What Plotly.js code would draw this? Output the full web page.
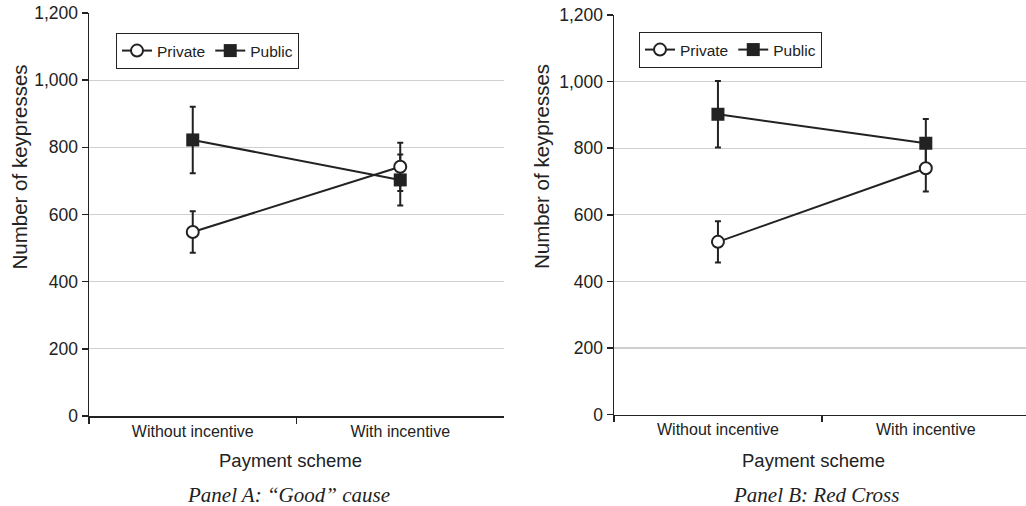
<!DOCTYPE html>
<html>
<head>
<meta charset="utf-8">
<script src="https://cdn.plot.ly/plotly-3.0.1.min.js"></script>
<style>html,body{margin:0;padding:0;background:#fff;}#chart{width:1026px;height:506px;}</style>
</head>
<body>
<div id="chart"></div>
<script>
// ---- Data ----
const categories = ["Without incentive", "With incentive"];
const seriesNames = ["Private", "Public"];

// Panel A: "Good" cause
const privateA = [548, 742];
const privateAErr = [62, 72];
const publicA = [822, 703];
const publicAErr = [99, 76];

// Panel B: Red Cross
const privateB = [519, 740];
const privateBErr = [62, 70];
const publicB = [902, 815];
const publicBErr = [100, 73];

const yTicks = [0, 200, 400, 600, 800, 1000, 1200];
const panelCaptions = ["Panel A: \u201cGood\u201d cause", "Panel B: Red Cross"];
const xTitle = "Payment scheme";
const yTitle = "Number of keypresses";

// ---- Styling ----
const ink = "#222222";
const sans = "Liberation Sans, Arial, sans-serif";
const serif = "Liberation Serif, Times New Roman, serif";

function errBar(arr) {
  return {type: "data", array: arr, visible: true, thickness: 2, width: 3, color: ink};
}
function publicTrace(y, err, xa, ya, leg) {
  return {
    x: categories, y: y, name: seriesNames[1], type: "scatter", mode: "lines+markers",
    xaxis: xa, yaxis: ya, legend: leg, legendrank: 2,
    line: {color: ink, width: 2},
    marker: {symbol: "square", size: 13, color: ink, line: {color: ink, width: 0}},
    error_y: errBar(err)
  };
}
function privateTrace(y, err, xa, ya, leg) {
  return {
    x: categories, y: y, name: seriesNames[0], type: "scatter", mode: "lines+markers",
    xaxis: xa, yaxis: ya, legend: leg, legendrank: 1,
    line: {color: ink, width: 2},
    marker: {symbol: "circle", size: 12, color: "#ffffff", line: {color: ink, width: 2}},
    error_y: errBar(err)
  };
}

const data = [
  publicTrace(publicA, publicAErr, "x", "y", "legend"),
  privateTrace(privateA, privateAErr, "x", "y", "legend"),
  publicTrace(publicB, publicBErr, "x2", "y2", "legend2"),
  privateTrace(privateB, privateBErr, "x2", "y2", "legend2")
];

function xAxis(domain, range) {
  return {
    domain: domain, type: "category", range: range,
    showline: true, linecolor: ink, linewidth: 1.5,
    ticks: "outside", tickson: "boundaries", ticklen: 6, tickcolor: ink, tickwidth: 1.5,
    showgrid: false, zeroline: false,
    tickfont: {family: sans, size: 16, color: ink},
    fixedrange: true
  };
}
function yAxis(domain, anchor) {
  return {
    domain: domain, anchor: anchor, range: [0, 1200],
    tickvals: yTicks, tickformat: ",",
    showline: true, linecolor: ink, linewidth: 1.5,
    ticks: "outside", ticklen: 6, tickcolor: ink, tickwidth: 1.5,
    showgrid: true, gridcolor: "#cfcfcf", gridwidth: 1.2, zeroline: false,
    tickfont: {family: sans, size: 17.5, color: ink},
    fixedrange: true
  };
}
function legendBox(x, y) {
  return {
    x: x, y: y, xanchor: "left", yanchor: "top", orientation: "h",
    bgcolor: "#ffffff", bordercolor: ink, borderwidth: 1,
    font: {family: sans, size: 15.5, color: ink},
    itemwidth: 30, tracegroupgap: 0, traceorder: "normal"
  };
}

const layout = {
  width: 1026, height: 506,
  margin: {l: 0, r: 0, t: 0, b: 0},
  paper_bgcolor: "#ffffff", plot_bgcolor: "#ffffff",
  showlegend: true,
  xaxis: Object.assign(xAxis([89/1026, 504/1026], [-0.5, 1.5]), {anchor: "y"}),
  yaxis: yAxis([90/506, 493/506], "x"),
  xaxis2: Object.assign(xAxis([614/1026, 1], [-0.5, 1.482]), {anchor: "y2"}),
  yaxis2: yAxis([91.3/506, 491/506], "x2"),
  legend: legendBox(116/1026, 1 - 33/506),
  legend2: legendBox(639/1026, 1 - 32/506),
  annotations: [
    {text: yTitle, xref: "paper", yref: "paper", x: 18.5/1026, y: 1 - 167/506, textangle: -90,
     showarrow: false, xanchor: "center", yanchor: "middle", font: {family: sans, size: 20.5, color: ink}},
    {text: yTitle, xref: "paper", yref: "paper", x: 541/1026, y: 1 - 167/506, textangle: -90,
     showarrow: false, xanchor: "center", yanchor: "middle", font: {family: sans, size: 20.5, color: ink}},
    {text: xTitle, xref: "paper", yref: "paper", x: 290/1026, y: 1 - 460/506,
     showarrow: false, xanchor: "center", yanchor: "middle", font: {family: sans, size: 18.5, color: ink}},
    {text: xTitle, xref: "paper", yref: "paper", x: 813/1026, y: 1 - 460/506,
     showarrow: false, xanchor: "center", yanchor: "middle", font: {family: sans, size: 18.5, color: ink}},
    {text: "<i>" + panelCaptions[0] + "</i>", xref: "paper", yref: "paper", x: 288/1026, y: 1 - 495/506,
     showarrow: false, xanchor: "center", yanchor: "middle", font: {family: serif, size: 21, color: ink}},
    {text: "<i>" + panelCaptions[1] + "</i>", xref: "paper", yref: "paper", x: 816/1026, y: 1 - 495/506,
     showarrow: false, xanchor: "center", yanchor: "middle", font: {family: serif, size: 21, color: ink}}
  ]
};

Plotly.newPlot("chart", data, layout, {displayModeBar: false, staticPlot: true});
</script>
</body>
</html>
